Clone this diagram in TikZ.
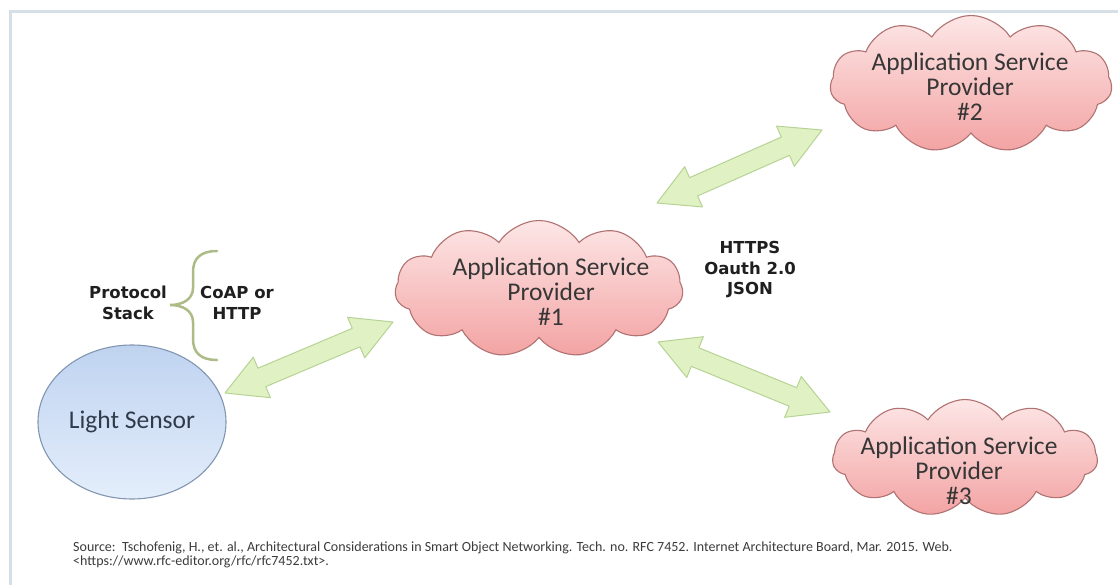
\documentclass[tikz,border=0pt]{standalone}
\usepackage{fontspec}
\setmainfont{Carlito}
\newfontfamily\tagfont{DejaVu Sans}
\usetikzlibrary{shapes.symbols,shapes.geometric,calc}

\definecolor{framegray}{HTML}{D6DEE6}
\definecolor{cloudtop}{HTML}{FDE6E6}
\definecolor{cloudbot}{HTML}{F3A3A3}
\definecolor{cloudline}{HTML}{B07272}
\definecolor{sensortop}{HTML}{BFD3F0}
\definecolor{sensorbot}{HTML}{E4EEFB}
\definecolor{sensorline}{HTML}{8296B2}
\definecolor{sensortext}{HTML}{2F3B4B}
\definecolor{arrowfill}{HTML}{E0F1C4}
\definecolor{arrowline}{HTML}{B6D394}
\definecolor{bracegreen}{HTML}{ADBB86}
\definecolor{textdark}{HTML}{363636}
\definecolor{srctext}{HTML}{3C3C3C}

\tikzset{
  cloudbox/.style={cloud, cloud puffs=11, cloud puff arc=115, cloud ignores aspect,
    draw=cloudline, line width=1.1pt, top color=cloudtop, bottom color=cloudbot,
    inner sep=0pt},
  cloudtext/.style={align=center, text=textdark, inner sep=0pt,
    font=\fontsize{25.5}{25}\selectfont},
  tag/.style={align=center, text=black!88, inner sep=0pt,
    font=\tagfont\bfseries\fontsize{16.5}{20.5}\selectfont},
  arrowbody/.style={draw=arrowline, line width=1pt, line join=round,
    fill=arrowfill},
}

% double-headed block arrow between two named points
\newcommand\dblarrow[2]{%
  \path let \p1=($(#2)-(#1)$) in \pgfextra{%
    \pgfmathsetmacro\arrang{atan2(\y1,\x1)}%
    \pgfmathsetmacro\arrlen{veclen(\x1,\y1)}%
    \pgfmathsetmacro\arrback{\arrlen-40}%
    \global\let\arrangG\arrang
    \global\let\arrlenG\arrlen
    \global\let\arrbackG\arrback};
  \draw[arrowbody, shift={(#1)}, rotate=\arrangG]
    (0pt,0pt) -- (40pt,22pt) -- (40pt,10pt) -- (\arrbackG pt,10pt)
    -- (\arrbackG pt,22pt) -- (\arrlenG pt,0pt) -- (\arrbackG pt,-22pt)
    -- (\arrbackG pt,-10pt) -- (40pt,-10pt) -- (40pt,-22pt) -- cycle;
}

\begin{document}
\begin{tikzpicture}[x=1pt,y=-1pt]
\useasboundingbox (0,0) rectangle (1118,585);
\fill[white] (0,0) rectangle (1118,585);
\draw[framegray, line width=3pt] (10,585) -- (10,12) -- (1118,12);

% sensor
\node[ellipse, draw=sensorline, line width=1.1pt, top color=sensortop,
  bottom color=sensorbot, minimum width=188pt, minimum height=154pt,
  inner sep=0pt, text=sensortext, font=\fontsize{25.5}{25}\selectfont]
  (sensor) at (132,422) {Light Sensor};

% providers
\node[cloudbox, minimum width=288pt, minimum height=137pt] (asp1) at (539,289) {};
\node[cloudtext] (asp1txt) at (551,292) {Application Service\\Provider\\\#1};
\node[cloudbox, minimum width=282pt, minimum height=137pt] (asp2) at (971,84) {};
\node[cloudtext] (asp2txt) at (970,87) {Application Service\\Provider\\\#2};
\node[cloudbox, minimum width=265pt, minimum height=117pt] (asp3) at (965,458) {};
\node[cloudtext] (asp3txt) at (959,471) {Application Service\\Provider\\\#3};

% protocol labels
\node[tag] (proto) at (128,303) {Protocol\\Stack};
\node[tag] (coap) at (237,303) {CoAP or\\HTTP};
\node[tag] (https) at (750,270) {HTTPS\\Oauth 2.0\\JSON};

% curly brace
\draw[bracegreen, line width=2.5pt, line cap=round]
  (217,251) .. controls (200,251) and (193,259) .. (193,272) -- (193,288)
  .. controls (193,299) and (183,305) .. (170,305)
  .. controls (183,305) and (193,311) .. (193,322) -- (193,339)
  .. controls (193,352) and (200,360) .. (217,360);

% arrow end points
\coordinate (a1s) at (225,393); \coordinate (a1e) at (393,322);
\coordinate (a2s) at (657,203); \coordinate (a2e) at (822,130);
\coordinate (a3s) at (658,342); \coordinate (a3e) at (830,412);
\dblarrow{a1s}{a1e}
\dblarrow{a2s}{a2e}
\dblarrow{a3s}{a3e}

% reference line
\node[anchor=north west, align=left, inner sep=0pt, text=srctext,
  font=\fontsize{14}{14.5}\selectfont] (src) at (73,541.5)
  {Source:\ \ Tschofenig, H., et. al., Architectural Considerations in Smart Object Networking. Tech. no. RFC 7452. Internet Architecture Board, Mar. 2015. Web.\\
   <https://www.rfc-editor.org/rfc/rfc7452.txt>.};
\end{tikzpicture}
\end{document}
